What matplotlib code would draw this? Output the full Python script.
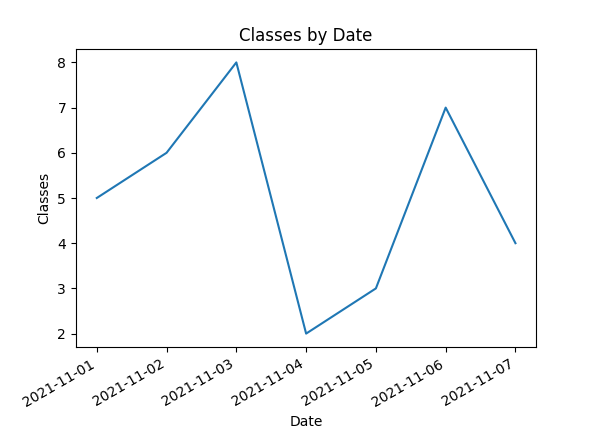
import matplotlib
matplotlib.use("Agg")
import matplotlib.pyplot as plt
import pandas as pd

dates = ["2021-11-01", "2021-11-02", "2021-11-03", "2021-11-04", "2021-11-05", "2021-11-06", "2021-11-07"]
classes = [5, 6, 8, 2, 3, 7, 4]

x = pd.to_datetime(dates)
fig, ax = plt.subplots(figsize=(6.02, 4.40), dpi=100)
ax.plot(x, classes, color="#1f77b4")
ax.set_title("Classes by Date")
ax.set_xlabel("Date")
ax.set_ylabel("Classes")
ax.set_xticks(x)
ax.set_xticklabels(dates)
fig.autofmt_xdate()
fig.subplots_adjust(left=0.126, right=0.891, top=0.889, bottom=0.211)
fig.savefig("out.png", dpi=100)
